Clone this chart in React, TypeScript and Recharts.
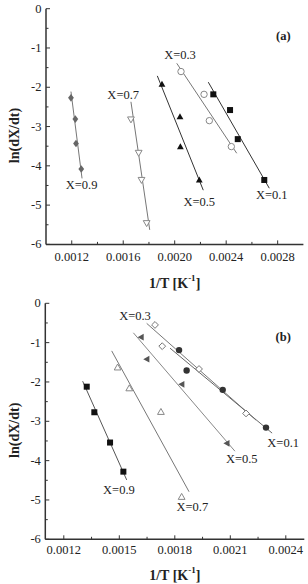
import React from 'react';
import { ComposedChart, Scatter, XAxis, YAxis, ReferenceDot } from 'recharts';

// ---------- Panel (a) data ----------
const aX09: [number, number][] = [[0.001194, -2.27], [0.001228, -2.81], [0.001233, -3.43], [0.001274, -4.08]];
const aX07: [number, number][] = [[0.00166, -2.82], [0.00172, -3.67], [0.001742, -4.36], [0.001782, -5.46]];
const aX05: [number, number][] = [[0.001901, -1.92], [0.002041, -2.75], [0.002044, -3.51], [0.002191, -4.36]];
const aX03: [number, number][] = [[0.002049, -1.6], [0.002228, -2.18], [0.002269, -2.85], [0.00244, -3.51]];
const aX01: [number, number][] = [[0.0023, -2.18], [0.00243, -2.58], [0.00249, -3.32], [0.002696, -4.36]];
const aFit09: [number, number][] = [[0.001194, -2.11], [0.00128, -4.32]];
const aFit07: [number, number][] = [[0.00166, -2.37], [0.001806, -5.63]];
const aFit05: [number, number][] = [[0.001865, -1.71], [0.002222, -4.62]];
const aFit03: [number, number][] = [[0.002016, -1.39], [0.002482, -3.68]];
const aFit01: [number, number][] = [[0.002261, -1.87], [0.002735, -4.57]];
const aLabels: [string, number, number][] = [
  ['X=0.3', 0.002041, -1.16],
  ['X=0.7', 0.0016, -2.18],
  ['X=0.9', 0.001277, -4.47],
  ['X=0.5', 0.002191, -4.9],
  ['X=0.1', 0.002754, -4.73],
];
const aXTicks = [0.0012, 0.0014, 0.0016, 0.0018, 0.002, 0.0022, 0.0024, 0.0026, 0.0028];
const aXMajor = [0.0012, 0.0016, 0.002, 0.0024, 0.0028];

// ---------- Panel (b) data ----------
const bX09: [number, number][] = [[0.001324, -2.12], [0.001365, -2.77], [0.00145, -3.54], [0.001522, -4.28]];
const bX07: [number, number][] = [[0.001491, -1.63], [0.001554, -2.16], [0.001725, -2.76], [0.001837, -4.92]];
const bX05: [number, number][] = [[0.001617, -0.86], [0.001648, -1.42], [0.001837, -2.06], [0.002081, -3.56]];
const bX03: [number, number][] = [[0.001693, -0.55], [0.001732, -1.09], [0.001931, -1.67], [0.002185, -2.8]];
const bX01: [number, number][] = [[0.001823, -1.19], [0.001864, -1.71], [0.002059, -2.2], [0.002293, -3.16]];
const bFit09: [number, number][] = [[0.001302, -1.98], [0.00154, -4.49]];
const bFit07: [number, number][] = [[0.001459, -1.21], [0.001877, -4.79]];
const bFit05: [number, number][] = [[0.001576, -0.75], [0.002125, -3.76]];
const bFit03: [number, number][] = [[0.001648, -0.51], [0.002239, -2.97]];
const bFit01: [number, number][] = [[0.001774, -1.14], [0.002326, -3.3]];
const bLabels: [string, number, number][] = [
  ['X=0.3', 0.001585, -0.3],
  ['X=0.1', 0.002386, -3.53],
  ['X=0.5', 0.002162, -3.94],
  ['X=0.9', 0.001498, -4.73],
  ['X=0.7', 0.001895, -5.17],
];
const bXTicks = [0.0012, 0.00135, 0.0015, 0.00165, 0.0018, 0.00195, 0.0021, 0.00225, 0.0024];
const bXMajor = [0.0012, 0.0015, 0.0018, 0.0021, 0.0024];

const yTicks = [-6, -5.5, -5, -4.5, -4, -3.5, -3, -2.5, -2, -1.5, -1, -0.5, 0];
const yMajor = [-6, -5, -4, -3, -2, -1, 0];

const FONT = '"Liberation Serif", "Times New Roman", serif';
const AXIS = '#333';

const toPts = (arr: [number, number][]) => arr.map(([x, y]) => ({ x, y }));
const isIn = (list: number[], v: number) => list.some((m) => Math.abs(m - v) < 1e-9);

type Kind = 'diamond' | 'diamondOpen' | 'triDownOpen' | 'triUp' | 'triUpOpen' | 'triLeft' | 'circle' | 'circleOpen' | 'square';

const makeShape = (kind: Kind, color: string) => (props: any) => {
  const { cx, cy } = props;
  if (cx == null || cy == null) return <g />;
  const s = 3.4;
  switch (kind) {
    case 'diamond':
      return <polygon points={`${cx},${cy - s - 0.4} ${cx + s * 0.85},${cy} ${cx},${cy + s + 0.4} ${cx - s * 0.85},${cy}`} fill={color} />;
    case 'diamondOpen':
      return <polygon points={`${cx},${cy - s} ${cx + s},${cy} ${cx},${cy + s} ${cx - s},${cy}`} fill="#fff" stroke={color} strokeWidth={1} />;
    case 'triDownOpen':
      return <polygon points={`${cx - s},${cy - s * 0.75} ${cx + s},${cy - s * 0.75} ${cx},${cy + s}`} fill="#fff" stroke={color} strokeWidth={1} />;
    case 'triUp':
      return <polygon points={`${cx - s},${cy + s * 0.75} ${cx + s},${cy + s * 0.75} ${cx},${cy - s}`} fill={color} />;
    case 'triUpOpen':
      return <polygon points={`${cx - s},${cy + s * 0.75} ${cx + s},${cy + s * 0.75} ${cx},${cy - s}`} fill="#fff" stroke={color} strokeWidth={1} />;
    case 'triLeft':
      return <polygon points={`${cx - s},${cy} ${cx + s * 0.8},${cy - s} ${cx + s * 0.8},${cy + s}`} fill={color} />;
    case 'circle':
      return <circle cx={cx} cy={cy} r={3.2} fill={color} />;
    case 'circleOpen':
      return <circle cx={cx} cy={cy} r={3.2} fill="#fff" stroke={color} strokeWidth={1} />;
    case 'square':
      return <rect x={cx - 3} y={cy - 3} width={6} height={6} fill={color} />;
  }
  return <g />;
};

const noShape = () => <g />;

const XTick = (props: any) => {
  const { x, y, payload, majors } = props;
  const major = isIn(majors, payload.value);
  return (
    <g>
      <line x1={x} x2={x} y1={y} y2={y - (major ? 4 : 2.5)} stroke={AXIS} strokeWidth={1} />
      {major && (
        <text x={x} y={y + props.labelGap} textAnchor="middle" dominantBaseline="central" fontFamily={FONT} fontSize={12.5} fill="#222">
          {payload.value.toFixed(4)}
        </text>
      )}
    </g>
  );
};

const YTick = (props: any) => {
  const { x, y, payload } = props;
  const major = isIn(yMajor, payload.value);
  return (
    <g>
      <line x1={x} x2={x + (major ? 4 : 2.5)} y1={y} y2={y} stroke={AXIS} strokeWidth={1} />
      {major && (
        <text x={x - 4.5} y={y} textAnchor="end" dominantBaseline="central" fontFamily={FONT} fontSize={12.5} fill="#222">
          {payload.value === 0 ? '0' : String(payload.value)}
        </text>
      )}
    </g>
  );
};

const XTitle = (gap: number) => (props: any) => {
  const vb = props.viewBox;
  return (
    <text x={vb.x + vb.width / 2} y={vb.y + gap} textAnchor="middle" dominantBaseline="central" fontFamily={FONT} fontSize={14} fontWeight="bold" fill="#222">
      1/T [K<tspan dy={-5} fontSize={9}>-1</tspan><tspan dy={5}>]</tspan>
    </text>
  );
};

const YTitle = (props: any) => {
  const vb = props.viewBox;
  const cx = 15;
  const cy = vb.y + vb.height / 2 + 9;
  return (
    <text x={cx} y={cy} textAnchor="middle" dominantBaseline="central" transform={`rotate(-90 ${cx} ${cy})`} fontFamily={FONT} fontSize={14} fontWeight="bold" fill="#222">
      ln(dX/dt)
    </text>
  );
};

type SeriesDef = { pts: [number, number][]; fit: [number, number][]; kind: Kind; color: string; lineColor: string };

interface PanelProps {
  top: number;
  height: number;
  margin: { top: number; right: number };
  yAxisWidth: number;
  xAxisHeight: number;
  xDomain: [number, number];
  xTicks: number[];
  xMajor: number[];
  tickGap: number;
  titleGap: number;
  series: SeriesDef[];
  labels: [string, number, number][];
  tag: string;
  tagPos: [number, number];
}

const Panel = (p: PanelProps) => (
  <div style={{ position: 'absolute', left: 0, top: p.top, width: 308, height: p.height }}>
    <ComposedChart width={308} height={p.height} margin={{ top: p.margin.top, right: p.margin.right, left: 0, bottom: 0 }}>
      <XAxis
        xAxisId={0}
        dataKey="x"
        type="number"
        domain={p.xDomain}
        ticks={p.xTicks}
        interval={0}
        height={p.xAxisHeight}
        tickLine={false}
        tickSize={0}
        tickMargin={0}
        axisLine={{ stroke: AXIS, strokeWidth: 1.5 }}
        tick={<XTick majors={p.xMajor} labelGap={p.tickGap} />}
        label={{ content: XTitle(p.titleGap) }}
      />
      <XAxis xAxisId="top" orientation="top" type="number" domain={p.xDomain} height={0} tick={false} tickLine={false} axisLine={{ stroke: '#999', strokeWidth: 1 }} />
      <YAxis
        yAxisId={0}
        dataKey="y"
        type="number"
        domain={[-6, 0]}
        ticks={yTicks}
        interval={0}
        width={p.yAxisWidth}
        tickLine={false}
        tickSize={0}
        tickMargin={0}
        axisLine={{ stroke: AXIS, strokeWidth: 1.5 }}
        tick={<YTick />}
        label={{ content: YTitle }}
      />
      <YAxis yAxisId="right" orientation="right" type="number" domain={[-6, 0]} width={0} tick={false} tickLine={false} axisLine={{ stroke: '#999', strokeWidth: 1 }} />
      {p.series.map((s, i) => (
        <Scatter
          key={'fit' + i}
          data={toPts(s.fit)}
          line={{ stroke: s.lineColor, strokeWidth: 1 }}
          lineType="joint"
          shape={noShape}
          isAnimationActive={false}
        />
      ))}
      {p.series.map((s, i) => (
        <Scatter key={'pts' + i} data={toPts(s.pts)} shape={makeShape(s.kind, s.color)} isAnimationActive={false} />
      ))}
      {p.labels.map(([t, x, y], i) => (
        <ReferenceDot
          key={'lab' + i}
          x={x}
          y={y}
          r={0}
          fill="none"
          stroke="none"
          label={{ value: t, position: 'center', fill: '#222', fontSize: 12.5, fontFamily: FONT }}
        />
      ))}
      <ReferenceDot
        x={p.tagPos[0]}
        y={p.tagPos[1]}
        r={0}
        fill="none"
        stroke="none"
        label={{ value: p.tag, position: 'center', fill: '#222', fontSize: 12.5, fontFamily: FONT, fontWeight: 'bold' }}
      />
    </ComposedChart>
  </div>
);

const seriesA: SeriesDef[] = [
  { pts: aX09, fit: aFit09, kind: 'diamond', color: '#666', lineColor: '#777' },
  { pts: aX07, fit: aFit07, kind: 'triDownOpen', color: '#888', lineColor: '#777' },
  { pts: aX05, fit: aFit05, kind: 'triUp', color: '#111', lineColor: '#333' },
  { pts: aX03, fit: aFit03, kind: 'circleOpen', color: '#888', lineColor: '#777' },
  { pts: aX01, fit: aFit01, kind: 'square', color: '#111', lineColor: '#333' },
];

const seriesB: SeriesDef[] = [
  { pts: bX09, fit: bFit09, kind: 'square', color: '#111', lineColor: '#555' },
  { pts: bX07, fit: bFit07, kind: 'triUpOpen', color: '#888', lineColor: '#777' },
  { pts: bX05, fit: bFit05, kind: 'triLeft', color: '#555', lineColor: '#888' },
  { pts: bX03, fit: bFit03, kind: 'diamondOpen', color: '#777', lineColor: '#777' },
  { pts: bX01, fit: bFit01, kind: 'circle', color: '#333', lineColor: '#666' },
];

export default function App() {
  return (
    <div style={{ position: 'absolute', left: 0, top: 0, width: 308, height: 584, background: '#fff' }}>
      <Panel
        top={0}
        height={292}
        margin={{ top: 8.7, right: 4.6 }}
        yAxisWidth={46}
        xAxisHeight={47.6}
        xDomain={[0.001, 0.003]}
        xTicks={aXTicks}
        xMajor={aXMajor}
        tickGap={12.3}
        titleGap={38.6}
        series={seriesA}
        labels={aLabels}
        tag="(a)"
        tagPos={[0.002844, -0.69]}
      />
      <Panel
        top={292}
        height={292}
        margin={{ top: 11.3, right: 3.7 }}
        yAxisWidth={45.3}
        xAxisHeight={44.7}
        xDomain={[0.0011, 0.0025]}
        xTicks={bXTicks}
        xMajor={bXMajor}
        tickGap={10.7}
        titleGap={35.7}
        series={seriesB}
        labels={bLabels}
        tag="(b)"
        tagPos={[0.002386, -0.85]}
      />
    </div>
  );
}
